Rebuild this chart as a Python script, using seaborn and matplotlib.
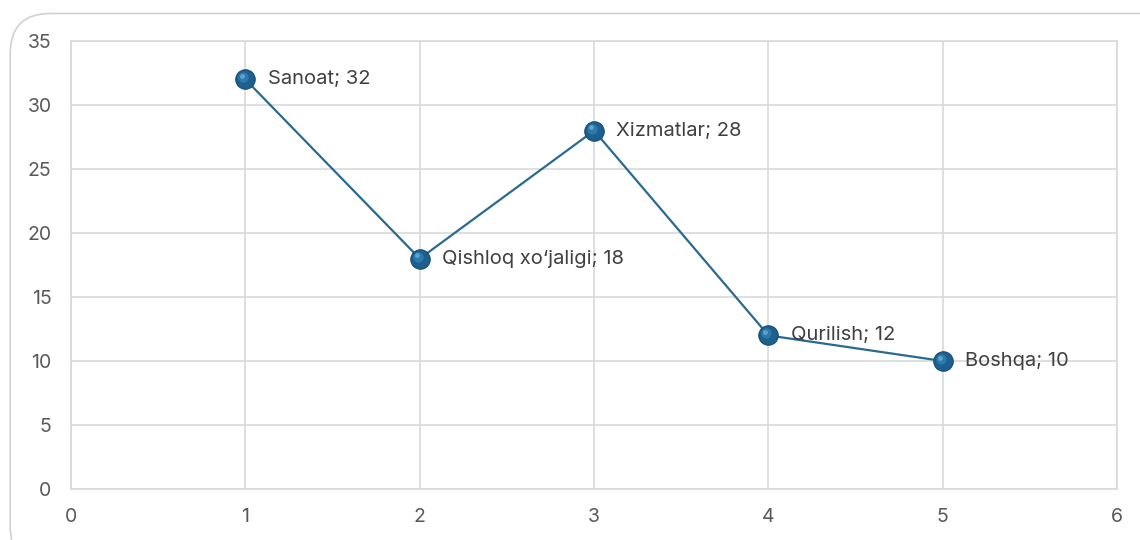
import matplotlib
matplotlib.use("Agg")
import matplotlib.pyplot as plt
import matplotlib.transforms as mtransforms
from matplotlib.patches import FancyBboxPatch
import seaborn as sns
import pandas as pd

# data
x_values = [1, 2, 3, 4, 5]
y_values = [32, 18, 28, 12, 10]
sectors = ["Sanoat", "Qishloq xo\u2018jaligi", "Xizmatlar", "Qurilish", "Boshqa"]

df = pd.DataFrame({"x": x_values, "y": y_values, "sector": sectors})

sns.set_theme(style="white")
plt.rcParams['font.family'] = ['Inter', 'DejaVu Sans']

fig = plt.figure(figsize=(11.4, 5.4), dpi=100)
ax = fig.add_axes([0.0623, 0.0944, 0.9177, 0.8296])

# rounded chart-area frame
frame = FancyBboxPatch((0.009, -0.05), 1.05, 1.025, transform=fig.transFigure,
                       boxstyle="round,pad=0,rounding_size=0.035",
                       facecolor="none", edgecolor="#d0d0d0", lw=1.2, zorder=0,
                       mutation_aspect=11.4 / 5.4)
fig.patches.append(frame)

line_color = "#2a6a8e"
sns.lineplot(data=df, x="x", y="y", ax=ax, color=line_color, lw=1.6,
             marker="o", markersize=14, markerfacecolor="#1d6090",
             markeredgecolor="#154d74", markeredgewidth=0.8, zorder=3)

# soft highlight to fake the glossy sphere look
shift = mtransforms.offset_copy(ax.transData, fig=fig, x=-1.5, y=1.5, units="points")
ax.scatter(df["x"], df["y"], s=55, color="#3f8fc0", alpha=0.55, transform=shift,
           zorder=4, linewidths=0)
shift2 = mtransforms.offset_copy(ax.transData, fig=fig, x=-2.2, y=2.4, units="points")
ax.scatter(df["x"], df["y"], s=12, color="#7cc0e6", alpha=0.6, transform=shift2,
           zorder=4, linewidths=0)

for xv, yv, name in zip(x_values, y_values, sectors):
    ax.annotate(f"{name}; {yv}", (xv, yv), xytext=(16, 0), textcoords="offset points",
                va="center", ha="left", fontsize=14.5, color="#404040", zorder=5)

ax.set_xlim(0, 6)
ax.set_ylim(0, 35)
ax.set_xticks(range(0, 7))
ax.set_yticks(range(0, 36, 5))
ax.grid(True, color="#d9d9d9", lw=1.2)
for s in ax.spines.values():
    s.set_color("#d9d9d9")
    s.set_linewidth(1.2)
ax.tick_params(axis="both", length=0, labelsize=14, labelcolor="#595959")
ax.tick_params(axis="y", pad=14)
ax.tick_params(axis="x", pad=14)
ax.set_xlabel("")
ax.set_ylabel("")

fig.savefig("out.png", dpi=100)
